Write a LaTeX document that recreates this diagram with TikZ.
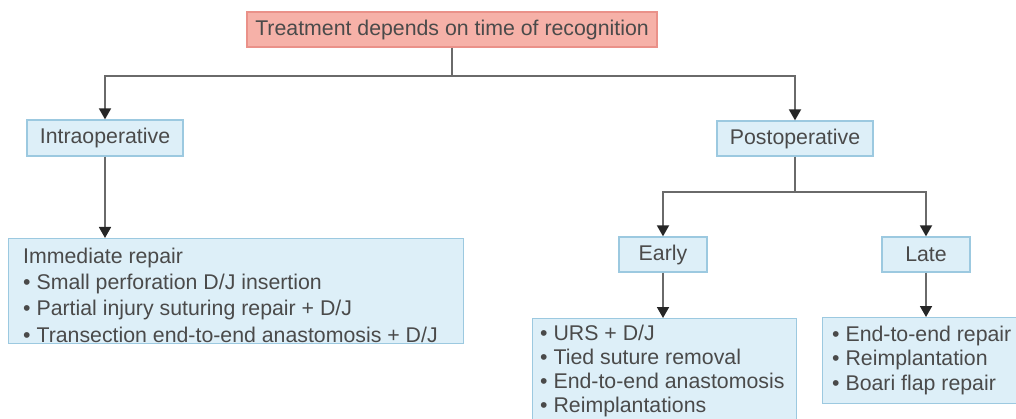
\documentclass[tikz,border=0pt]{standalone}
\usepackage{fontspec}
\setmainfont{Liberation Sans}
\usetikzlibrary{arrows.meta}
\definecolor{txt}{HTML}{4A4A4A}
\definecolor{redfill}{HTML}{F6B1A8}
\definecolor{redline}{HTML}{EA9189}
\definecolor{bluefill}{HTML}{DDEFF8}
\definecolor{blueline}{HTML}{9CC9E0}
\definecolor{conn}{HTML}{6A6A6A}
\definecolor{tipc}{HTML}{262626}
\begin{document}
\begin{tikzpicture}[x=1pt,y=1pt,
  font=\fontsize{21.3}{25}\selectfont, text=txt,
  lbl/.style={draw=blueline, fill=bluefill, line width=1.3pt, inner sep=0pt},
  titlebox/.style={draw=redline, fill=redfill, line width=1.3pt, inner sep=0pt},
  listbox/.style={draw=blueline, fill=bluefill, line width=1.3pt, inner sep=0pt, anchor=north west},
  listtext/.style={anchor=north west, align=left, inner sep=0pt},
  link/.style={draw=conn, line width=1.8pt},
  arr/.style={link, -{Triangle[width=12pt,length=11pt,color=tipc]}}
]
\useasboundingbox (0,0) rectangle (1016,-419);
\clip (0,0) rectangle (1016,-419);

\node[titlebox, minimum width=410, minimum height=35] (top) at (452,-29.5) {Treatment depends on time of recognition};
\node[lbl, minimum width=156, minimum height=36] (intra) at (105,-138) {Intraoperative};
\node[lbl, minimum width=156, minimum height=35] (post) at (795,-138.5) {Postoperative};
\node[lbl, minimum width=88, minimum height=35] (early) at (663,-254.5) {Early};
\node[lbl, minimum width=88, minimum height=35] (late) at (926,-254.5) {Late};

\node[listbox, minimum width=455, minimum height=105] (imm) at (8,-238) {};
\node[listtext, font=\fontsize{21.3}{26.3}\selectfont] (immtext) at (23,-247.5) {Immediate repair\\
• Small perforation D/J insertion\\
• Partial injury suturing repair + D/J\\
• Transection end-to-end anastomosis + D/J};

\node[listbox, minimum width=264, minimum height=115] (elist) at (532,-318) {};
\node[listtext, font=\fontsize{21.3}{24}\selectfont] (elisttext) at (540,-324.5) {• URS + D/J\\
• Tied suture removal\\
• End-to-end anastomosis\\
• Reimplantations};

\node[listbox, minimum width=210, minimum height=86] (llist) at (822,-317) {};
\node[listtext, font=\fontsize{21.3}{24.5}\selectfont] (llisttext) at (832,-325.5) {• End-to-end repair\\
• Reimplantation\\
• Boari flap repair};

\draw[link] (top.south) -- ++(0,-28) coordinate (j1);
\draw[arr] (j1) -| (intra.north);
\draw[arr] (j1) -| (post.north);
\draw[link] (post.south) -- ++(0,-35) coordinate (j2);
\draw[arr] (j2) -| (early.north);
\draw[arr] (j2) -| (late.north);
\draw[arr] (intra.south) -- (intra.south |- imm.north);
\draw[arr] (early.south) -- (early.south |- elist.north);
\draw[arr] (late.south) -- (late.south |- llist.north);
\end{tikzpicture}
\end{document}
